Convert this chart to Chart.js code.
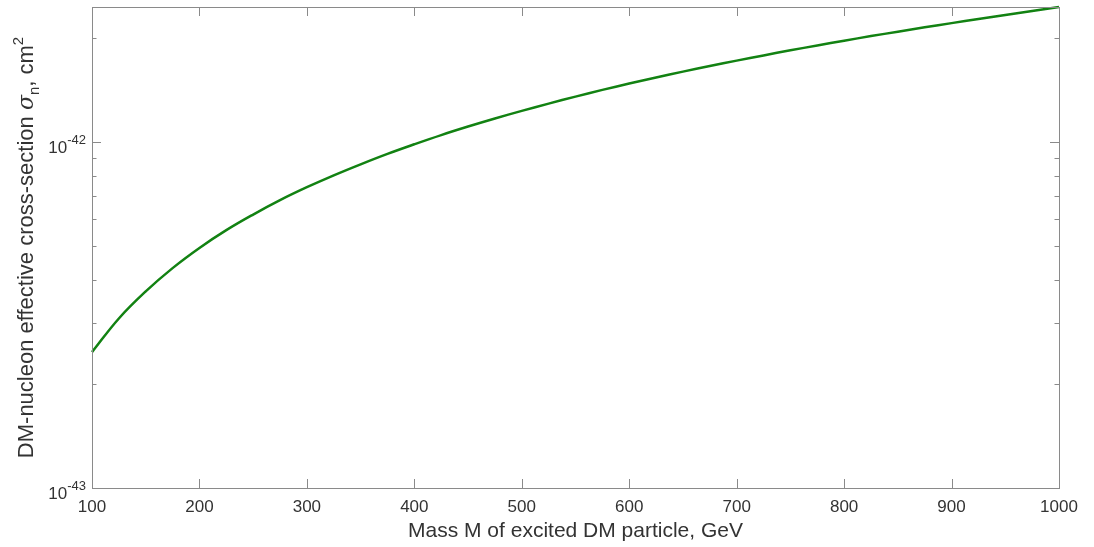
<!DOCTYPE html>
<html>
<head>
<meta charset="utf-8">
<script src="https://cdn.jsdelivr.net/npm/chart.js@4"></script>
<style>
  body { margin: 0; background: #fff; }
  canvas { display: block; }
</style>
</head>
<body>
<canvas id="sigma" width="1094" height="547"></canvas>
<script>
// DM mass (GeV) and cross-section (cm^2)
const masses = [100, 125, 150, 175, 200, 225, 250, 275, 300, 325, 350, 375, 400, 425, 450, 475, 500, 525, 550, 575,
  600, 625, 650, 675, 700, 725, 750, 775, 800, 825, 850, 875, 900, 925, 950, 975, 1000];
const sigmas = [2.47e-43, 3.09e-43, 3.70e-43, 4.32e-43, 4.94e-43, 5.56e-43, 6.17e-43, 6.79e-43, 7.40e-43, 8.01e-43,
  8.62e-43, 9.24e-43, 9.85e-43, 1.047e-42, 1.108e-42, 1.169e-42, 1.230e-42, 1.291e-42, 1.352e-42, 1.414e-42,
  1.475e-42, 1.536e-42, 1.597e-42, 1.658e-42, 1.718e-42, 1.779e-42, 1.840e-42, 1.901e-42, 1.962e-42, 2.023e-42,
  2.083e-42, 2.144e-42, 2.205e-42, 2.266e-42, 2.327e-42, 2.390e-42, 2.455e-42];

const xTicks = [100, 200, 300, 400, 500, 600, 700, 800, 900, 1000];
const yMajorTicks = [1e-43, 1e-42];
const yExponents = ["-43", "-42"];
const yMinorTicks = [2e-43, 3e-43, 4e-43, 5e-43, 6e-43, 7e-43, 8e-43, 9e-43, 2e-42];

const FONT = "'Liberation Sans', Arial, sans-serif";
const AXIS = "#8a8a8a";
const TEXT = "#333333";

const frame = {
  id: "frame",
  afterDraw(chart) {
    const ctx = chart.ctx;
    const a = chart.chartArea;
    const xs = chart.scales.x, ys = chart.scales.y;
    ctx.save();
    ctx.strokeStyle = AXIS;
    ctx.lineWidth = 1;
    ctx.strokeRect(Math.round(a.left) + 0.5, Math.round(a.top) + 0.5, Math.round(a.right - a.left), Math.round(a.bottom - a.top));

    ctx.beginPath();
    xTicks.forEach(v => {
      const px = Math.round(xs.getPixelForValue(v)) + 0.5;
      ctx.moveTo(px, a.bottom); ctx.lineTo(px, a.bottom - 9);
      ctx.moveTo(px, a.top); ctx.lineTo(px, a.top + 9);
    });
    yMajorTicks.forEach(v => {
      const py = Math.round(ys.getPixelForValue(v)) + 0.5;
      ctx.moveTo(a.left, py); ctx.lineTo(a.left + 9, py);
      ctx.moveTo(a.right, py); ctx.lineTo(a.right - 9, py);
    });
    yMinorTicks.forEach(v => {
      const py = Math.round(ys.getPixelForValue(v)) + 0.5;
      ctx.moveTo(a.left, py); ctx.lineTo(a.left + 4.5, py);
      ctx.moveTo(a.right, py); ctx.lineTo(a.right - 4.5, py);
    });
    ctx.stroke();

    // x tick labels
    ctx.fillStyle = TEXT;
    ctx.font = "17px " + FONT;
    ctx.textAlign = "center";
    ctx.textBaseline = "alphabetic";
    xTicks.forEach(v => ctx.fillText(String(v), xs.getPixelForValue(v), a.bottom + 24));

    // y tick labels 10^n
    yMajorTicks.forEach((v, i) => {
      const py = ys.getPixelForValue(v);
      ctx.font = "13px " + FONT;
      const ew = ctx.measureText(yExponents[i]).width;
      ctx.textAlign = "right";
      ctx.fillText(yExponents[i], a.left - 6, py + 2);
      ctx.font = "17px " + FONT;
      ctx.fillText("10", a.left - 6 - ew, py + 11);
    });

    // x title
    ctx.font = "21px " + FONT;
    ctx.textAlign = "center";
    ctx.fillText("Mass M of excited DM particle, GeV", (a.left + a.right) / 2, 537);

    // y title with sigma_n and cm^2
    const parts = [
      { t: "DM-nucleon effective cross-section ", f: "22px " + FONT, dy: 0 },
      { t: "\u03c3", f: "italic 22px 'DejaVu Serif', serif", dy: 0 },
      { t: "n", f: "15px " + FONT, dy: 6 },
      { t: ", cm", f: "22px " + FONT, dy: 0 },
      { t: "2", f: "15px " + FONT, dy: -10 }
    ];
    let total = 0;
    parts.forEach(p => { ctx.font = p.f; p.w = ctx.measureText(p.t).width; total += p.w; });
    ctx.translate(33, (a.top + a.bottom) / 2);
    ctx.rotate(-Math.PI / 2);
    ctx.textAlign = "left";
    let x = -total / 2;
    parts.forEach(p => { ctx.font = p.f; ctx.fillText(p.t, x, p.dy); x += p.w; });
    ctx.restore();
  }
};

new Chart(document.getElementById("sigma"), {
  type: "line",
  data: {
    datasets: [{
      data: masses.map((m, i) => ({ x: m, y: sigmas[i] })),
      borderColor: "rgb(18, 130, 18)",
      borderWidth: 2.5,
      pointRadius: 0,
      tension: 0.4,
      clip: false
    }]
  },
  options: {
    responsive: false,
    animation: false,
    layout: { padding: { left: 92, top: 7, right: 35, bottom: 59 } },
    plugins: { legend: { display: false }, tooltip: { enabled: false } },
    scales: {
      x: { type: "linear", min: 100, max: 1000, display: false },
      y: { type: "logarithmic", min: 1e-43, max: 2.455e-42, display: false }
    }
  },
  plugins: [frame]
});
</script>
</body>
</html>
